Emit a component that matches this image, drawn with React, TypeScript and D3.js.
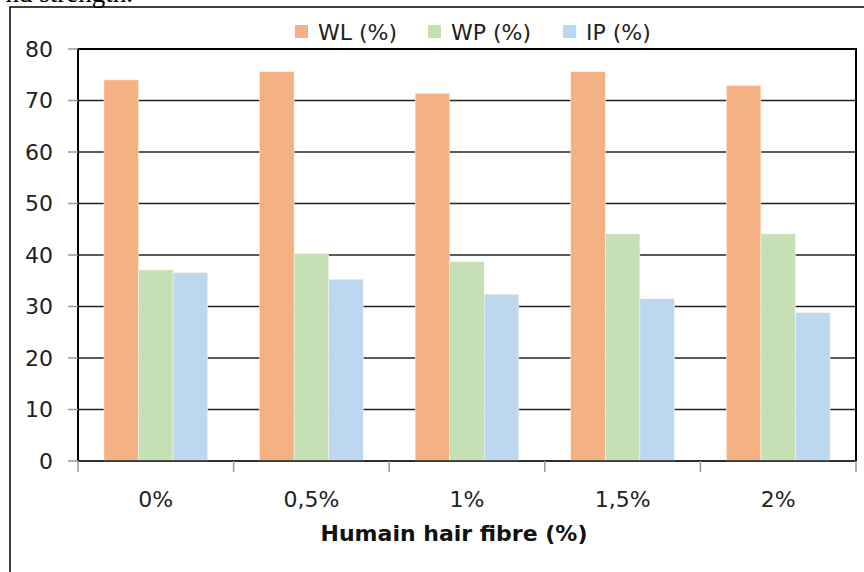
import React from "react";
import * as d3 from "d3";

const categories = ["0%", "0,5%", "1%", "1,5%", "2%"];
const seriesNames = ["WL (%)", "WP (%)", "IP (%)"];
const wl = [74.0, 75.6, 71.4, 75.6, 72.9];
const wp = [37.1, 40.3, 38.7, 44.1, 44.1];
const ip = [36.6, 35.3, 32.4, 31.5, 28.8];
const yTicks = [0, 10, 20, 30, 40, 50, 60, 70, 80];
const colors = ["#F4B183", "#C5E0B4", "#BDD7EE"];

const FONT = "'DejaVu Sans', sans-serif";

export default function App() {
  const W = 864, H = 572;
  const left = 78, right = 856, top = 49, bottom = 461;
  const series = [wl, wp, ip];
  const x = d3.scaleBand().domain(categories).range([left, right]).paddingInner(0).paddingOuter(0);
  const inner = d3.scaleBand().domain(seriesNames).range([0, x.bandwidth()]).paddingInner(0).paddingOuter(0.75);
  const y = d3.scaleLinear().domain([0, 80]).range([bottom, top]);
  const legendX = [295, 428, 563];
  return (
    <svg width={W} height={H} style={{ position: "absolute", left: 0, top: 0, background: "#fff" }}>
      <text x={133} y={1.5} textAnchor="end" fontFamily="'Liberation Serif', 'Times New Roman', serif" fontSize={27} fill="#000">nd strength.</text>
      <rect x={10} y={7} width={900} height={700} fill="none" stroke="#000" strokeWidth={1.5} />
      {/* gridlines */}
      {yTicks.map((t) => (
        <line key={"g" + t} x1={left} x2={right} y1={y(t)} y2={y(t)} stroke="#222" strokeWidth={t === 80 ? 2 : 1.6} />
      ))}
      {/* bars */}
      {categories.map((c, i) =>
        series.map((s, k) => (
          <rect key={c + k} x={(x(c) as number) + (inner(seriesNames[k]) as number)} y={y(s[i])}
            width={inner.bandwidth()} height={bottom - y(s[i])} fill={colors[k]} stroke="#fdf6f0" strokeWidth={0.5} />
        ))
      )}
      {/* frame */}
      <line x1={left} x2={left} y1={top - 1} y2={bottom} stroke="#000" strokeWidth={2} />
      <line x1={right} x2={right} y1={top - 1} y2={bottom} stroke="#000" strokeWidth={2} />
      <line x1={left - 1} x2={right + 1} y1={top} y2={top} stroke="#000" strokeWidth={2} />
      <line x1={left} x2={right} y1={bottom} y2={bottom} stroke="#222" strokeWidth={1.6} />
      {/* y ticks */}
      {yTicks.map((t) => (
        <g key={"t" + t}>
          <line x1={68} x2={left} y1={y(t)} y2={y(t)} stroke="#999" strokeWidth={1.5} />
          <text x={53} y={y(t)} dy="0.36em" textAnchor="end" fontFamily={FONT} fontSize={22} fill="#222">{t}</text>
        </g>
      ))}
      {/* x ticks */}
      {categories.map((c) => (
        <line key={"xt" + c} x1={x(c) as number} x2={x(c) as number} y1={bottom} y2={bottom + 11} stroke="#999" strokeWidth={1.5} />
      ))}
      <line x1={right} x2={right} y1={bottom} y2={bottom + 11} stroke="#999" strokeWidth={1.5} />
      {categories.map((c) => (
        <text key={"xl" + c} x={(x(c) as number) + x.bandwidth() / 2} y={507} textAnchor="middle" fontFamily={FONT} fontSize={22} fill="#222">{c}</text>
      ))}
      <text x={454} y={541} textAnchor="middle" fontFamily={FONT} fontSize={22} fontWeight="bold" fill="#111">Humain hair fibre (%)</text>
      {/* legend */}
      {seriesNames.map((n, k) => (
        <g key={"l" + n}>
          <rect x={legendX[k]} y={25} width={13} height={13} fill={colors[k]} />
          <text x={legendX[k] + 23} y={32} dy="0.36em" fontFamily={FONT} fontSize={22} fill="#222">{n}</text>
        </g>
      ))}
    </svg>
  );
}
